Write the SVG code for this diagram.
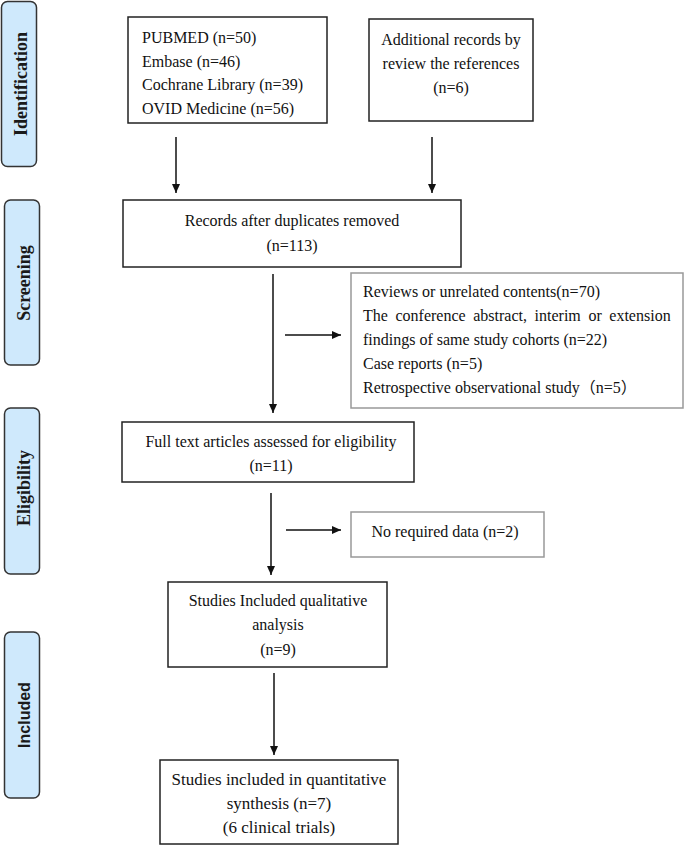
<svg xmlns="http://www.w3.org/2000/svg" width="685" height="846" viewBox="0 0 685 846">
<style>
.bg{fill:#ffffff}
.stage rect{fill:#cfe9fc;stroke:#333;stroke-width:1.5}
.stage text{font-family:"Liberation Serif","Times New Roman",serif;font-weight:bold;font-size:18px;fill:#1a1a1a}
.stage text.sans{font-family:"Liberation Sans",Arial,sans-serif;font-size:16px}
.box{fill:#fff;stroke:#222;stroke-width:1.5}
.gbox{fill:#fff;stroke:#999;stroke-width:1.5}
.t{font-family:"Liberation Serif","Times New Roman","Noto Sans CJK SC",serif;font-size:16px;fill:#111}
.c{text-anchor:middle}
.conn line{stroke:#111;stroke-width:1.5;marker-end:url(#ah)}
</style>
<defs>
<marker id="ah" markerWidth="10" markerHeight="10" refX="9" refY="5" orient="auto" markerUnits="userSpaceOnUse">
<path d="M0,1 L9,5 L0,9 Z" fill="#111"/>
</marker>
</defs>
<rect class="bg" x="0" y="0" width="685" height="846"/>

<g id="stage-identification" class="stage">
<rect x="1.5" y="1.5" width="35" height="165" rx="6"/>
<text transform="translate(21,84) rotate(-90)" text-anchor="middle" dominant-baseline="central">Identification</text>
</g>
<g id="stage-screening" class="stage">
<rect x="4.5" y="200" width="35" height="165" rx="6"/>
<text transform="translate(24,283) rotate(-90)" text-anchor="middle" dominant-baseline="central">Screening</text>
</g>
<g id="stage-eligibility" class="stage">
<rect x="4.5" y="408" width="35" height="166" rx="6"/>
<text transform="translate(24,488) rotate(-90)" text-anchor="middle" dominant-baseline="central">Eligibility</text>
</g>
<g id="stage-included" class="stage">
<rect x="4.5" y="632" width="35" height="166" rx="6"/>
<text class="sans" transform="translate(24,715) rotate(-90)" text-anchor="middle" dominant-baseline="central">Included</text>
</g>

<g id="node-databases">
<rect class="box" x="128" y="17" width="199" height="106"/>
<text class="t" x="142" y="43">PUBMED (n=50)</text>
<text class="t" x="142" y="66.5">Embase (n=46)</text>
<text class="t" x="142" y="90">Cochrane Library (n=39)</text>
<text class="t" x="142" y="113.5">OVID Medicine (n=56)</text>
</g>
<g id="node-additional">
<rect class="box" x="369" y="19" width="164" height="102"/>
<text class="t c" x="451" y="45">Additional records by</text>
<text class="t c" x="451" y="69">review the references</text>
<text class="t c" x="451" y="93">(n=6)</text>
</g>
<g id="node-records">
<rect class="box" x="123" y="200" width="338" height="67"/>
<text class="t c" x="292" y="226">Records after duplicates removed</text>
<text class="t c" x="292" y="251">(n=113)</text>
</g>
<g id="node-excluded">
<rect class="gbox" x="351" y="273" width="332" height="135"/>
<text class="t" x="363" y="297">Reviews or unrelated contents(n=70)</text>
<text class="t" x="363" y="321" word-spacing="3.6">The conference abstract, interim or extension</text>
<text class="t" x="363" y="345">findings of same study cohorts (n=22)</text>
<text class="t" x="363" y="369">Case reports (n=5)</text>
<text class="t" x="363" y="393">Retrospective observational study（n=5）</text>
</g>
<g id="node-fulltext">
<rect class="box" x="122" y="422" width="292" height="60"/>
<text class="t c" x="271" y="447">Full text articles assessed for eligibility</text>
<text class="t c" x="271" y="471">(n=11)</text>
</g>
<g id="node-norequired">
<rect class="gbox" x="351" y="512" width="193" height="45"/>
<text class="t c" x="445" y="537">No required data (n=2)</text>
</g>
<g id="node-qualitative">
<rect class="box" x="168" y="582" width="219" height="85"/>
<text class="t c" x="278" y="606">Studies Included qualitative</text>
<text class="t c" x="278" y="630">analysis</text>
<text class="t c" x="278" y="655">(n=9)</text>
</g>
<g id="node-quantitative">
<rect class="box" x="160" y="760" width="238" height="84"/>
<text class="t c" x="279" y="785" style="font-size:17px">Studies included in quantitative</text>
<text class="t c" x="279" y="809" style="font-size:17px">synthesis (n=7)</text>
<text class="t c" x="279" y="833" style="font-size:17px">(6 clinical trials)</text>
</g>

<g id="connectors" class="conn">
<line x1="176" y1="137" x2="176" y2="193"/>
<line x1="432" y1="137" x2="432" y2="193"/>
<line x1="273" y1="274" x2="273" y2="413"/>
<line x1="285" y1="335" x2="341" y2="335"/>
<line x1="271" y1="493" x2="271" y2="575"/>
<line x1="286" y1="530" x2="341" y2="530"/>
<line x1="274" y1="673" x2="274" y2="755"/>
</g>
</svg>
